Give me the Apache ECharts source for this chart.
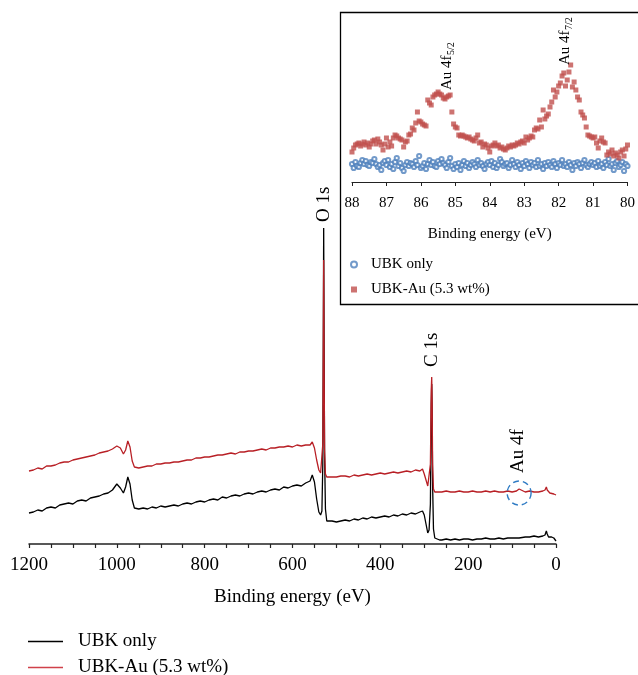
<!DOCTYPE html>
<html>
<head>
<meta charset="utf-8">
<script src="https://cdn.jsdelivr.net/npm/echarts@6/dist/echarts.min.js"></script>
<style>
html,body{margin:0;padding:0;background:#fff;}
#chart{width:638px;height:675px;}
</style>
</head>
<body>
<div id="chart"></div>
<script>
// ---------- Survey spectrum (binding energy, eV; intensity, arb. units) ----------
const energy = [
  1200,1190,1180,1170,1160,1150,1140,1130,1120,1110,1100,1090,1080,1070,1060,1050,1040,1030,1020,1010,
  1000,992,985,980,975,970,965,960,
  950,940,930,920,910,900,890,880,870,860,850,840,830,820,810,800,790,780,770,760,
  750,740,730,720,710,700,690,680,670,660,650,640,630,620,610,600,590,580,570,560,
  555,550,545,540,536,533,531,530,529,528,527,525,522,518,
  510,500,490,480,470,460,450,440,430,420,410,400,390,380,370,360,350,340,330,320,310,
  304,300,296,292,289,286,284,283,282,281,279,276,272,265,
  260,250,240,230,220,210,200,190,180,170,160,150,140,130,120,110,100,90,
  84,80,
  70,60,50,40,30,
  25,22,20,17,14,10,5,2,0
];
const ubkOnly = [
  31,32,34,33,36,37,36,39,40,41,40,43,44,43,46,47,48,50,51,54,
  60,56,51,57,67,60,44,36,
  35,36,35,37,36,38,37,38,39,38,40,41,40,42,43,42,44,45,44,47,
  46,48,49,48,50,51,50,52,53,52,54,55,54,57,56,58,59,58,61,63,
  69,62,45,32,29,33,80,190,316,200,90,35,23,22,
  23,22,23,24,23,25,24,26,25,27,26,27,28,27,29,28,30,29,31,30,32,
  33,29,20,11,14,40,140,160,130,60,15,6,4,4,
  4,5,4,5,4,5,5,4,5,5,6,5,5,6,5,6,6,6,
  6,6,
  7,7,8,7,8,
  9,13,10,7,8,7,6,5,3
];
const ubkAu = [
  73,74,76,75,78,78,79,81,82,82,84,85,86,87,88,89,91,92,93,95,
  98,96,90,94,103,97,83,77,
  76,77,78,78,80,80,81,81,82,82,83,84,84,86,86,87,87,88,89,89,
  90,91,90,92,92,93,93,94,95,94,96,96,97,97,98,97,99,98,99,99,
  102,96,84,74,71,72,100,180,284,180,95,70,67,67,
  67,67,68,68,67,69,68,69,70,69,70,71,70,71,72,71,72,73,72,74,73,
  75,70,64,58,56,80,155,167,140,80,55,52,52,52,
  52,53,52,52,53,52,52,53,52,52,53,52,53,52,52,53,52,53,
  55,53,
  52,53,52,52,53,
  54,57,54,52,51,51,50,50,49
];

// ---------- Au 4f region (inset), 88 -> 80 eV in 0.05 eV steps ----------
const insetAu = [
  30,34,37,38,39,36,38,40,37,39,
  35,38,41,42,38,43,40,37,32,38,
  44,35,40,36,44,47,46,44,43,42,
  35,40,41,47,48,54,52,59,70,61,
  60,58,57,56,82,79,77,85,87,88,
  90,88,87,84,83,85,86,87,70,58,
  55,54,47,46,47,46,45,44,45,43,
  42,41,44,47,39,40,35,38,37,34,
  30,36,37,39,36,37,34,35,33,32,
  34,36,35,37,36,37,39,38,40,41,
  39,45,42,44,46,45,52,54,53,62,
  55,72,63,66,68,75,80,92,85,90,
  96,99,106,109,96,102,110,117,95,100,
  92,85,82,70,67,64,55,47,46,45,
  44,45,39,34,41,44,40,39,27,30,
  28,32,26,29,27,24,30,32,26,33,
  37
];
const insetUbk = [
  18,14,20,16,15,19,22,18,21,17,
  16,20,19,23,18,15,17,12,19,21,
  17,22,15,18,13,20,24,16,19,14,
  11,17,20,16,19,18,15,21,17,26,
  14,16,19,13,18,22,17,20,16,15,
  21,18,23,19,17,14,20,24,16,13,
  18,15,19,12,17,21,16,19,14,17,
  20,18,15,22,17,19,16,13,18,20,
  17,21,15,19,14,17,23,20,16,18,
  19,14,17,22,18,15,20,17,13,19,
  16,21,18,14,20,17,19,15,22,16,
  18,13,19,16,20,17,15,21,18,14,
  19,17,22,16,18,15,20,17,12,19,
  16,20,18,14,19,22,17,15,18,20,
  17,19,15,21,16,18,14,20,17,23,
  16,18,12,19,21,15,17,20,11,18,
  16
];
const insetEnergy = insetAu.map((_, i) => +(88 - 0.05 * i).toFixed(2));

const seriesNames = ['UBK only', 'UBK-Au (5.3 wt%)'];
const insetTag = ' (inset)';

const FONT = 'Liberation Serif';
const BLACK = '#000000';
const RED = '#b81f25';
const BLUE = '#4f81bd';
const SQRED = '#c0504d';

const chart = echarts.init(document.getElementById('chart'), null, {renderer: 'canvas'});

const option = {
  animation: false,
  backgroundColor: '#fff',
  grid: [
    {left: 29, right: 82, top: 214, bottom: 131},
    {left: 352, right: 2, top: 32, bottom: 493}
  ],
  xAxis: [
    {
      gridIndex: 0, type: 'value', inverse: true, min: 0, max: 1200, interval: 50,
      name: 'Binding energy (eV)', nameLocation: 'middle', nameGap: 44,
      nameTextStyle: {fontFamily: FONT, fontSize: 19, color: '#000'},
      axisLine: {show: true, onZero: false, lineStyle: {color: '#222', width: 1.5}},
      axisTick: {show: true, length: 4, lineStyle: {color: '#222', width: 1.2}},
      axisLabel: {fontFamily: FONT, fontSize: 19, color: '#000', margin: 12,
        formatter: v => (v % 200 === 0 ? String(v) : '')},
      splitLine: {show: false}
    },
    {
      gridIndex: 1, type: 'value', inverse: true, min: 80, max: 88, interval: 1,
      name: 'Binding energy (eV)', nameLocation: 'middle', nameGap: 45,
      nameTextStyle: {fontFamily: FONT, fontSize: 15, color: '#000'},
      axisLine: {show: true, onZero: false, lineStyle: {color: '#222', width: 1.2}},
      axisTick: {show: true, length: 4, lineStyle: {color: '#222', width: 1}},
      axisLabel: {fontFamily: FONT, fontSize: 15, color: '#000', margin: 14, showMaxLabel: true, showMinLabel: true},
      splitLine: {show: false}
    }
  ],
  yAxis: [
    {gridIndex: 0, type: 'value', min: 0, max: 330, show: false},
    {gridIndex: 1, type: 'value', min: 0, max: 150, show: false}
  ],
  legend: [
    {
      data: seriesNames.map(n => ({name: n, icon: 'rect'})),
      orient: 'vertical', left: 28, top: 632, height: 80, padding: 0,
      itemWidth: 35, itemHeight: 1.6, itemGap: 7,
      textStyle: {fontFamily: FONT, fontSize: 19, color: '#000', padding: [0, 0, 0, 10]}
    },
    {
      data: seriesNames.map(n => n + insetTag), orient: 'vertical', left: 350, top: 257, padding: 0,
      itemWidth: 6, itemHeight: 6, itemGap: 10,
      formatter: n => n.replace(insetTag, ''),
      textStyle: {fontFamily: FONT, fontSize: 15, color: '#000', padding: [0, 0, 0, 9]}
    }
  ],
  graphic: [],
  series: [
    {
      name: seriesNames[0], type: 'line', xAxisIndex: 0, yAxisIndex: 0,
      data: energy.map((e, i) => [e, ubkOnly[i]]),
      symbol: 'none', showSymbol: false, z: 3,
      lineStyle: {color: BLACK, width: 1.3}, itemStyle: {color: BLACK}
    },
    {
      name: seriesNames[1], type: 'line', xAxisIndex: 0, yAxisIndex: 0,
      data: energy.map((e, i) => [e, ubkAu[i]]),
      symbol: 'none', showSymbol: false, z: 4,
      lineStyle: {color: RED, width: 1.3}, itemStyle: {color: '#d0414a'}
    },
    {
      name: seriesNames[0] + insetTag, type: 'scatter', xAxisIndex: 1, yAxisIndex: 1,
      data: insetEnergy.map((e, i) => [e, insetUbk[i]]),
      symbol: 'emptyCircle', symbolSize: 4.2, z: 5,
      itemStyle: {color: BLUE, borderColor: BLUE, borderWidth: 1}
    },
    {
      name: seriesNames[1] + insetTag, type: 'scatter', xAxisIndex: 1, yAxisIndex: 1,
      data: insetEnergy.map((e, i) => [e, insetAu[i]]),
      symbol: 'rect', symbolSize: 5, z: 6,
      itemStyle: {color: SQRED}
    }
  ]
};

chart.setOption(option);

// ---------- annotations placed through the axes ----------
function px(axisIdx, e, v) {
  return chart.convertToPixel({xAxisIndex: axisIdx, yAxisIndex: axisIdx}, [e, v]);
}
function vLabel(p, main, sub, size, subSize, subOffset) {
  const children = [{
    type: 'text', x: 0, y: 0, z: 20,
    style: {text: main, font: size + 'px "' + FONT + '"', fill: '#000', textAlign: 'left', textVerticalAlign: 'middle'}
  }];
  if (sub) {
    children.push({
      type: 'text', x: subOffset, y: size * 0.28, z: 20,
      style: {text: sub, font: subSize + 'px "' + FONT + '"', fill: '#000', textAlign: 'left', textVerticalAlign: 'middle'}
    });
  }
  return {type: 'group', x: p[0], y: p[1], rotation: Math.PI / 2, z: 20, children};
}

const pO = px(0, 529, 322);
const pC = px(0, 283, 177);
const pAu = px(0, 86, 71);
const pCirc = px(0, 84, 51);
const pIn1 = px(1, 85.25, 92);
const pIn2 = px(1, 81.8, 117);

const boxLeft = 340.5, boxTop = 12.5;
chart.setOption({
  graphic: [
    {type: 'rect', z: -5, shape: {x: boxLeft, y: boxTop, width: 310, height: 292},
      style: {fill: '#fff', stroke: '#000', lineWidth: 1.3}},
    vLabel(pO, 'O 1s', null, 19),
    vLabel(pC, 'C 1s', null, 19),
    vLabel(pAu, 'Au 4f', null, 19),
    vLabel(pIn1, 'Au 4f', '5/2', 15, 10, 35),
    vLabel(pIn2, 'Au 4f', '7/2', 15, 10, 35),
    {type: 'circle', z: 20, shape: {cx: pCirc[0], cy: pCirc[1], r: 12},
      style: {fill: 'none', stroke: '#2e7bc4', lineWidth: 1.4, lineDash: [6, 4]}}
  ]
});
</script>
</body>
</html>
